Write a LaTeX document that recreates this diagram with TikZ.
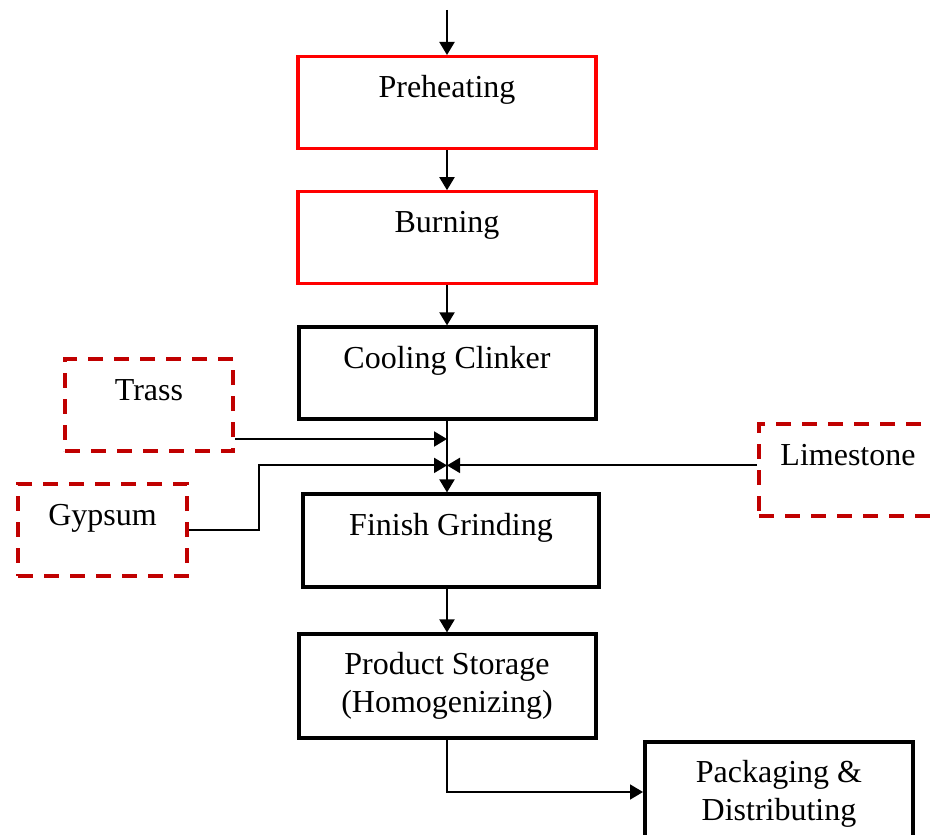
\documentclass[tikz,border=0pt]{standalone}
\usepackage{fontspec}
\setmainfont{Liberation Serif}
\usetikzlibrary{arrows.meta,positioning}
\definecolor{darkred}{HTML}{C00000}
\begin{document}
\begin{tikzpicture}[
  x=0.5pt, y=-0.5pt,
  stage/.style={rectangle, draw, line width=2pt, minimum width=148.5pt, inner xsep=0pt, inner ysep=0pt,
    text height=20.5pt, text depth=25.5pt, align=center},
  heat/.style={stage, draw=red, line width=1.6pt, minimum width=149pt},
  additive/.style={stage, draw=darkred, dash pattern=on 7.5pt off 5.5pt, minimum width=84pt},
  flow/.style={-{Triangle[length=6.5pt,width=7.5pt]}, line width=1pt},
  font=\fontsize{16}{19}\selectfont
]
\useasboundingbox (0,0) rectangle (930,834);

% kiln line
\node[heat, anchor=north] (preheat) at (447,55) {Preheating};
\node[heat, below=20pt of preheat] (burn) {Burning};
\node[stage, below=20pt of burn] (cool) {Cooling Clinker};
\node[stage, below=35.5pt of cool, xshift=2pt, minimum width=148pt, text depth=26pt] (grind) {Finish Grinding};
\node[stage, below=21.5pt of grind, xshift=-2pt, text height=39pt, text depth=13pt] (storage) {Product Storage\\(Homogenizing)};
\node[stage, anchor=north, minimum width=134pt, text height=39pt, text depth=11pt] (pack) at (779,740) {Packaging \&\\Distributing};

% additives
\node[additive, anchor=north] (trass) at (149,357) {Trass};
\node[additive, anchor=north, minimum width=84.5pt] (gypsum) at (102.5,482) {Gypsum};
\node[additive, anchor=north, minimum width=89pt] (limestone) at (848,422) {Limestone};

\coordinate (feed) at ([yshift=22.5pt]preheat.north);
\coordinate (mix) at ([yshift=-22pt]cool.south);
\coordinate (trassout) at ([yshift=7pt]trass.south east);

\draw[flow] (feed) -- (preheat);
\draw[flow] (preheat) -- (burn);
\draw[flow] (burn) -- (cool);
\draw[flow] (cool) -- (cool |- grind.north);
\draw[flow] (grind.south -| storage) -- (storage);
\draw[flow] (trassout) -- (trassout -| cool.south);
\draw[flow] (gypsum.east) -- ++(35pt,0) |- (mix);
\draw[flow] (limestone.west |- mix) -- (mix);
\draw[flow, line width=0.8pt] (storage.south) |- (pack.west);
\end{tikzpicture}
\end{document}
